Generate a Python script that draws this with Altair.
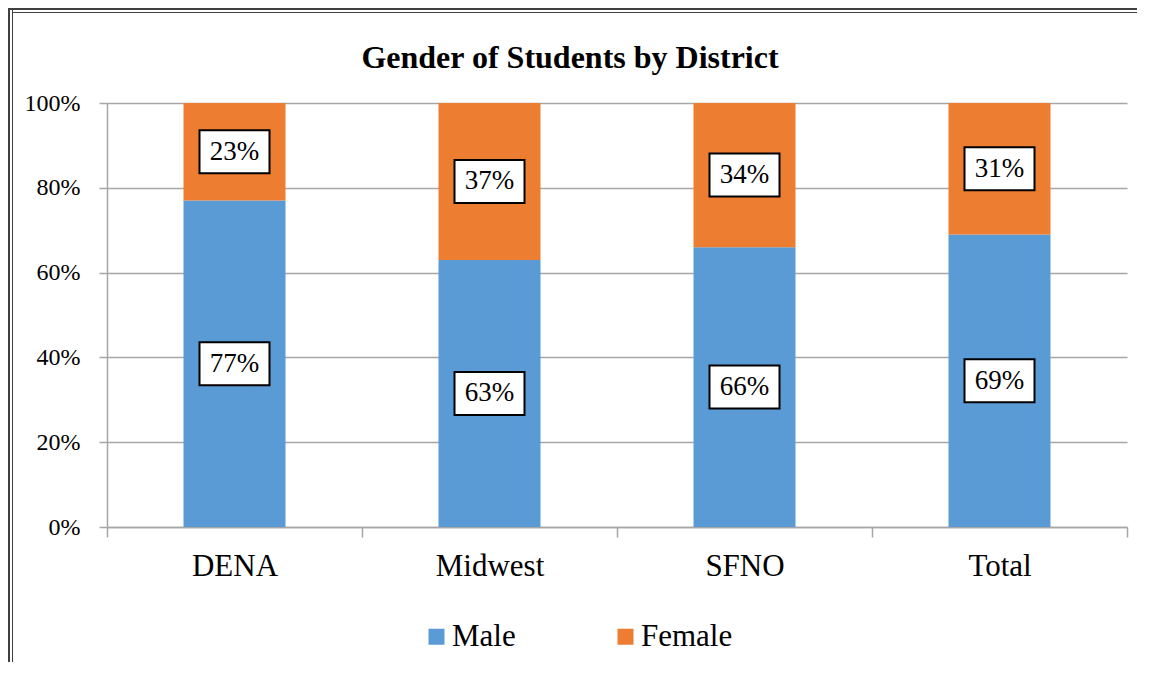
import altair as alt
import pandas as pd

districts = ["DENA", "Midwest", "SFNO", "Total"]
male = [0.77, 0.63, 0.66, 0.69]
female = [0.23, 0.37, 0.34, 0.31]
genders = ["Male", "Female"]
colors = ["#5B9BD5", "#ED7D31"]
y_ticks = [0, 0.2, 0.4, 0.6, 0.8, 1.0]

rows = []
for d, m, f in zip(districts, male, female):
    rows.append({"district": d, "gender": "Male", "value": m, "lo": 0.0, "hi": m})
    rows.append({"district": d, "gender": "Female", "value": f, "lo": m, "hi": min(1.0, m + f)})
df = pd.DataFrame(rows)
df["mid"] = (df["lo"] + df["hi"]) / 2

FONT = "Liberation Serif, Times New Roman, serif"
GRAY = "#A6A6A6"

x_enc = alt.X(
    "district:N",
    sort=districts,
    scale=alt.Scale(paddingInner=0, paddingOuter=0),
    axis=alt.Axis(
        title=None, labelAngle=0, labelFont=FONT, labelFontSize=31, labelColor="black",
        tickBand="extent", tickSize=10, tickColor=GRAY, tickWidth=1.5,
        domainColor=GRAY, domainWidth=1.5, labelPadding=14, grid=False,
    ),
)
y_scale = alt.Scale(domain=[0, 1], nice=False)
y_axis = alt.Axis(
    title=None, format=".0%", values=y_ticks, labelFont=FONT, labelFontSize=24,
    labelColor="black", tickSize=8, tickColor=GRAY, tickWidth=1.5,
    domainColor=GRAY, domainWidth=1.5, grid=True, gridColor=GRAY, gridWidth=1.5,
    labelPadding=19,
)

bars = alt.Chart(df).mark_bar(width=102).encode(
    x=x_enc,
    y=alt.Y("lo:Q", scale=y_scale, axis=y_axis),
    y2="hi:Q",
    color=alt.Color(
        "gender:N",
        scale=alt.Scale(domain=genders, range=colors),
        legend=alt.Legend(
            title=None, orient="none", legendX=314, legendY=518, direction="horizontal",
            symbolType="square", symbolSize=256, symbolStrokeWidth=0,
            labelFont=FONT, labelFontSize=31, labelColor="black", labelOffset=0,
            columnPadding=94, padding=0,
        ),
    ),
)

boxes = alt.Chart(df).mark_point(
    shape="M-1,-0.614H1V0.614H-1Z", size=4900, filled=True, fill="white",
    stroke="black", strokeWidth=2, opacity=1,
).encode(x=alt.X("district:N", sort=districts), y=alt.Y("mid:Q", scale=y_scale, axis=y_axis))

labels = alt.Chart(df).mark_text(
    font=FONT, fontSize=27, baseline="middle", align="center", color="black",
).encode(
    x=alt.X("district:N", sort=districts),
    y=alt.Y("mid:Q", scale=y_scale, axis=y_axis),
    text=alt.Text("value:Q", format=".0%"),
)

border_df = pd.DataFrame({"k": [0]})
b1 = alt.Chart(border_df).mark_rule(color="#404040", strokeWidth=2).encode(
    x=alt.value(-98), y=alt.value(-98), y2=alt.value(600))
b2 = alt.Chart(border_df).mark_rule(color="#404040", strokeWidth=2).encode(
    x=alt.value(-98), x2=alt.value(1100), y=alt.value(-94))
b3 = alt.Chart(border_df).mark_rule(color="#404040", strokeWidth=1).encode(
    x=alt.value(-94.5), y=alt.value(-94.5), y2=alt.value(600))
b4 = alt.Chart(border_df).mark_rule(color="#404040", strokeWidth=1).encode(
    x=alt.value(-94.5), x2=alt.value(1100), y=alt.value(-90.5))

chart = alt.layer(bars, boxes, labels, b1, b2, b3, b4).properties(
    width=1020,
    height=424,
    padding={"left": 99, "top": 95, "right": 10, "bottom": 135},
    autosize=alt.AutoSizeParams(type="none"),
    title=alt.TitleParams(
        "Gender of Students by District", font=FONT, fontSize=32, fontWeight="bold",
        color="black", anchor="middle", dx=-47, offset=-71,
    ),
).configure_view(stroke=None)

chart.save("out.html", embed_options={"renderer": "svg", "actions": False})
